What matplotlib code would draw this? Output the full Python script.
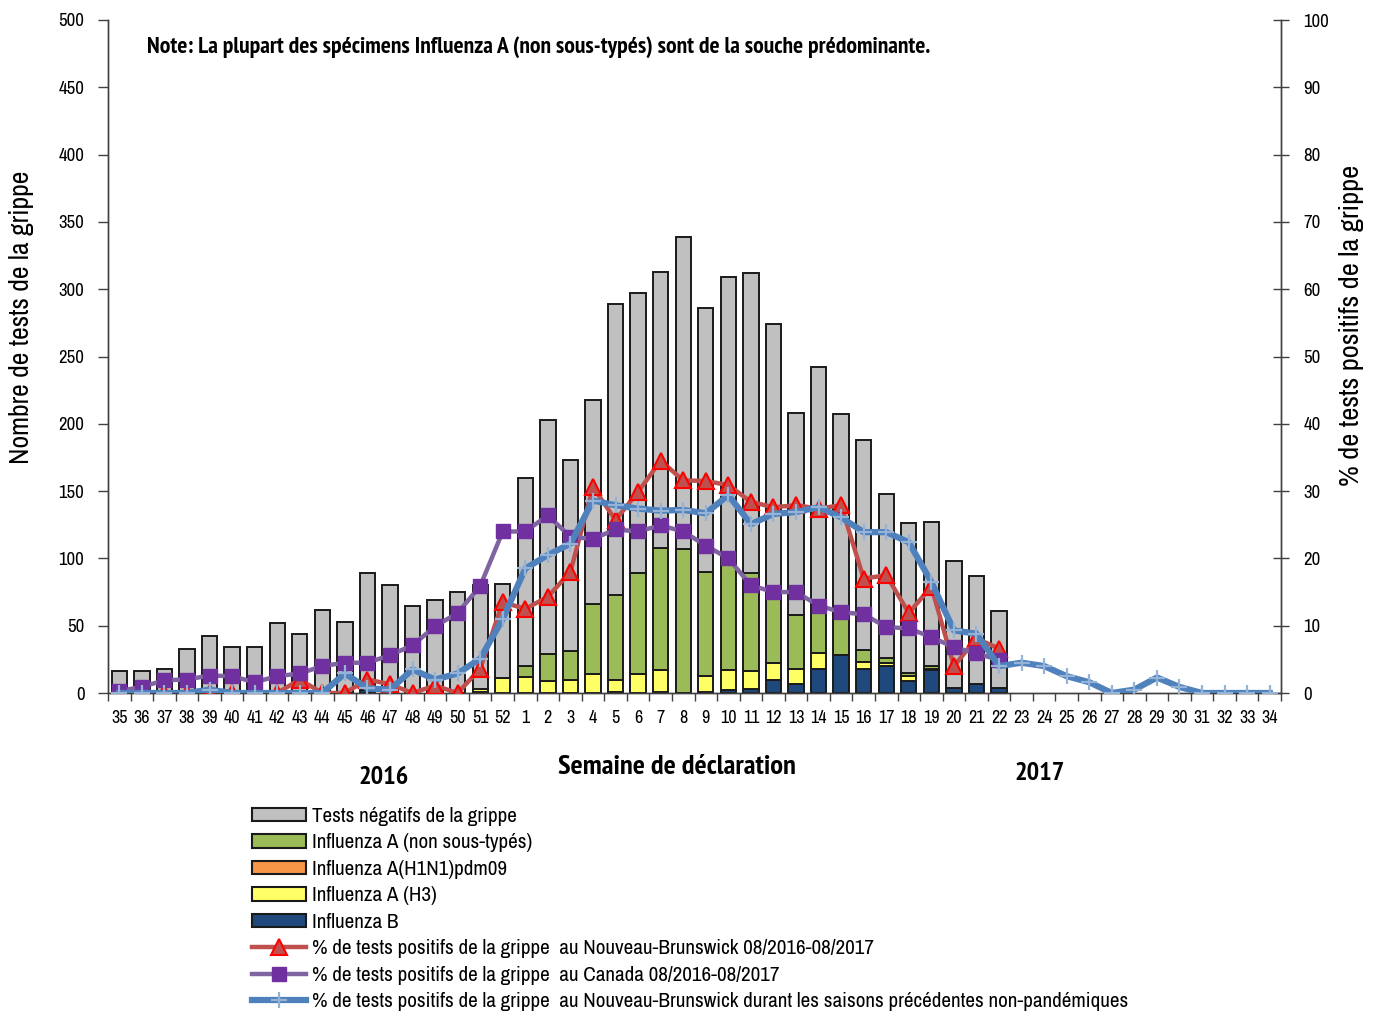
import matplotlib
matplotlib.use("Agg")
import matplotlib.pyplot as plt
from matplotlib.patches import Patch
from matplotlib.lines import Line2D
import numpy as np

plt.rcParams['font.family'] = ['Archivo Narrow', 'DejaVu Sans']
BOLD_FAM = ['PT Sans Narrow', 'Roboto Condensed', 'DejaVu Sans']

weeks = [str(w) for w in list(range(35, 53)) + list(range(1, 35))]

# Bar components (number of tests), weeks 35/2016 .. 22/2017
flu_b = [0, 0, 0, 0, 0, 0, 0, 0, 1, 0, 0, 2, 1, 0, 1, 0, 1, 0,
         0, 0, 0, 0, 1, 0, 1, 0, 1, 2, 3, 10, 7, 18, 28, 18, 20, 9, 17, 4, 7, 4]
flu_h1n1 = [0] * 40
flu_h3 = [0, 0, 0, 0, 0, 0, 0, 0, 0, 0, 0, 0, 0, 0, 0, 0, 2, 11,
          12, 9, 10, 14, 9, 14, 16, 0, 12, 15, 13, 12, 11, 12, 0, 5, 2, 4, 1, 0, 0, 0]
flu_a = [0, 0, 0, 0, 0, 0, 0, 0, 0, 0, 0, 0, 0, 0, 0, 0, 0, 0,
         8, 20, 21, 52, 63, 75, 91, 107, 77, 78, 73, 54, 40, 36, 30, 9, 4, 2, 2, 0, 0, 0]
total_tests = [16, 16, 18, 33, 42, 34, 34, 52, 44, 62, 53, 89, 80, 65, 69, 75, 80, 81,
               160, 203, 173, 218, 289, 297, 313, 339, 286, 309, 312, 274, 208, 242, 207,
               188, 148, 126, 127, 98, 87, 61]

# Percent positive lines
pct_nb = [0, 0, 0, 0, 0, 0, 0, 0, 2.0, 0, 0, 2.0, 1.3, 0, 1.1, 0, 3.6, 13.5,
          12.5, 14.3, 18.0, 30.6, 25.7, 29.9, 34.5, 31.6, 31.5, 30.9, 28.4, 27.6,
          27.9, 27.4, 27.9, 17.0, 17.5, 11.9, 15.8, 4.0, 8.1, 6.6]
pct_canada = [0.3, 0.9, 1.9, 2.0, 2.6, 2.5, 1.6, 2.5, 2.9, 4.0, 4.5, 4.5, 5.6, 7.1, 9.9,
              11.9, 15.9, 24.0, 24.0, 26.4, 23.2, 22.9, 24.3, 24.0, 24.9, 24.0, 21.9,
              20.0, 16.0, 15.0, 15.0, 13.0, 12.0, 11.7, 9.8, 9.6, 8.3, 6.8, 5.9, 4.9]
pct_hist = [0, 0, 0, 0, 0.5, 0, 0, 0, 0, 0, 2.9, 0.7, 0.5, 3.5, 2.0, 2.9, 5.1, 11.0,
            18.5, 20.5, 22.2, 28.6, 27.9, 27.4, 27.1, 27.2, 26.7, 29.4, 25.1, 26.6,
            26.9, 27.6, 26.1, 23.9, 23.9, 22.4, 16.5, 9.3, 8.8, 4.0, 4.5, 4.0, 2.5,
            1.6, 0.0, 0.5, 2.3, 0.9, 0, 0, 0, 0]

labels_bars = ["Tests négatifs de la grippe", "Influenza A (non sous-typés)",
               "Influenza A(H1N1)pdm09", "Influenza A (H3)", "Influenza B"]
labels_lines = ["% de tests positifs de la grippe  au Nouveau-Brunswick 08/2016-08/2017",
                "% de tests positifs de la grippe  au Canada 08/2016-08/2017",
                "% de tests positifs de la grippe  au Nouveau-Brunswick durant les saisons précédentes non-pandémiques"]

c_neg, c_a, c_h1, c_h3, c_b = "#C0C0C0", "#9BBB59", "#F79646", "#FFFF66", "#1F497D"
c_red, c_purple, c_blue = "#C0504D", "#8064A2", "#4F81BD"

fig = plt.figure(figsize=(13.83, 10.15), dpi=100)
ax = fig.add_axes([108/1383, 1-693/1015, (1281-108)/1383, (693-20)/1015])
ax2 = ax.twinx()

nb = len(total_tests)
xb = np.arange(nb)
b = np.array(flu_b); h1 = np.array(flu_h1n1); h3 = np.array(flu_h3); a = np.array(flu_a)
neg = np.array(total_tests) - b - h1 - h3 - a
bw = 0.68
ec = "#1a1a1a"
lw = 1.4
bottom = np.zeros(nb)
for vals, col in [(b, c_b), (h1, c_h1), (h3, c_h3), (a, c_a), (neg, c_neg)]:
    ax.bar(xb, vals, bw, bottom=bottom, color=col, edgecolor=ec, linewidth=lw, zorder=2)
    bottom = bottom + vals

x_all = np.arange(len(weeks))
ax2.plot(np.arange(len(pct_nb)), pct_nb, color=c_red, lw=3.2, marker='^', ms=11,
         mfc=c_red, mec="#FF0000", mew=1.5, zorder=3)
ax2.plot(np.arange(len(pct_canada)), pct_canada, color=c_purple, lw=3.2, marker='s', ms=10.5,
         mfc="#7030A0", mec="#7030A0", zorder=4)
ax2.plot(x_all, pct_hist, color=c_blue, lw=4.5, marker='+', ms=12,
         mec="#95B3D7", mew=1.6, zorder=5)

ax.set_xlim(-0.5, len(weeks) - 0.5)
ax.set_ylim(0, 500)
ax2.set_ylim(0, 100)
ax.set_yticks(np.arange(0, 501, 50))
ax2.set_yticks(np.arange(0, 101, 10))
ax.set_xticks(x_all)
ax.set_xticklabels(weeks, fontsize=13)
ax.set_xticks(np.arange(-0.5, len(weeks), 1.0), minor=True)
ax.tick_params(axis='x', which='major', length=0, pad=12)
ax.tick_params(axis='x', which='minor', length=6, width=1, color="#404040", direction='out')
ax.tick_params(axis='y', labelsize=13.5, length=7, width=1, color="#404040", pad=10)
ax2.tick_params(axis='y', labelsize=13.5, length=12, width=1, color="#404040",
                direction='inout', pad=10)

for axx in (ax, ax2):
    axx.spines['top'].set_visible(False)
    for s in ('left', 'right', 'bottom'):
        axx.spines[s].set_color("#404040")
        axx.spines[s].set_linewidth(1.0)
ax.set_zorder(1)
ax2.set_zorder(2)
ax.patch.set_visible(False)

fig.text(22/1383, 1-317/1015, "Nombre de tests de la grippe", rotation=90,
         ha='center', va='center', fontsize=20)
fig.text(1352/1383, 1-325/1015, "% de tests positifs de la grippe", rotation=90,
         ha='center', va='center', fontsize=20.5)
fig.text(147/1383, 1-47/1015,
         "Note: La plupart des spécimens Influenza A (non sous-typés) sont de la souche prédominante.",
         ha='left', va='center', fontsize=17, fontweight='bold', family=BOLD_FAM)
fig.text(677/1383, 1-767/1015, "Semaine de déclaration", ha='center', va='center',
         fontsize=20.5, fontweight='bold', family=BOLD_FAM)
fig.text(384/1383, 1-777/1015, "2016", ha='center', va='center', fontsize=19,
         fontweight='bold', family=BOLD_FAM)
fig.text(1040/1383, 1-773/1015, "2017", ha='center', va='center', fontsize=19,
         fontweight='bold', family=BOLD_FAM)

handles = [Patch(facecolor=c, edgecolor=ec, linewidth=1.5)
           for c in (c_neg, c_a, c_h1, c_h3, c_b)]
handles += [
    Line2D([], [], color=c_red, lw=3.2, marker='^', ms=11, mfc=c_red, mec="#FF0000", mew=1.5),
    Line2D([], [], color=c_purple, lw=3.2, marker='s', ms=10.5, mfc="#7030A0", mec="#7030A0"),
    Line2D([], [], color=c_blue, lw=4.5, marker='+', ms=12, mec="#95B3D7", mew=1.6),
]
fig.legend(handles, labels_bars + labels_lines, loc='upper left',
           bbox_to_anchor=(252/1383, 1-807/1015), frameon=False, fontsize=15.2,
           handlelength=2.55, handleheight=0.6, handletextpad=0.3, labelspacing=0.352,
           borderpad=0, borderaxespad=0)

fig.savefig("out.png", dpi=100)
